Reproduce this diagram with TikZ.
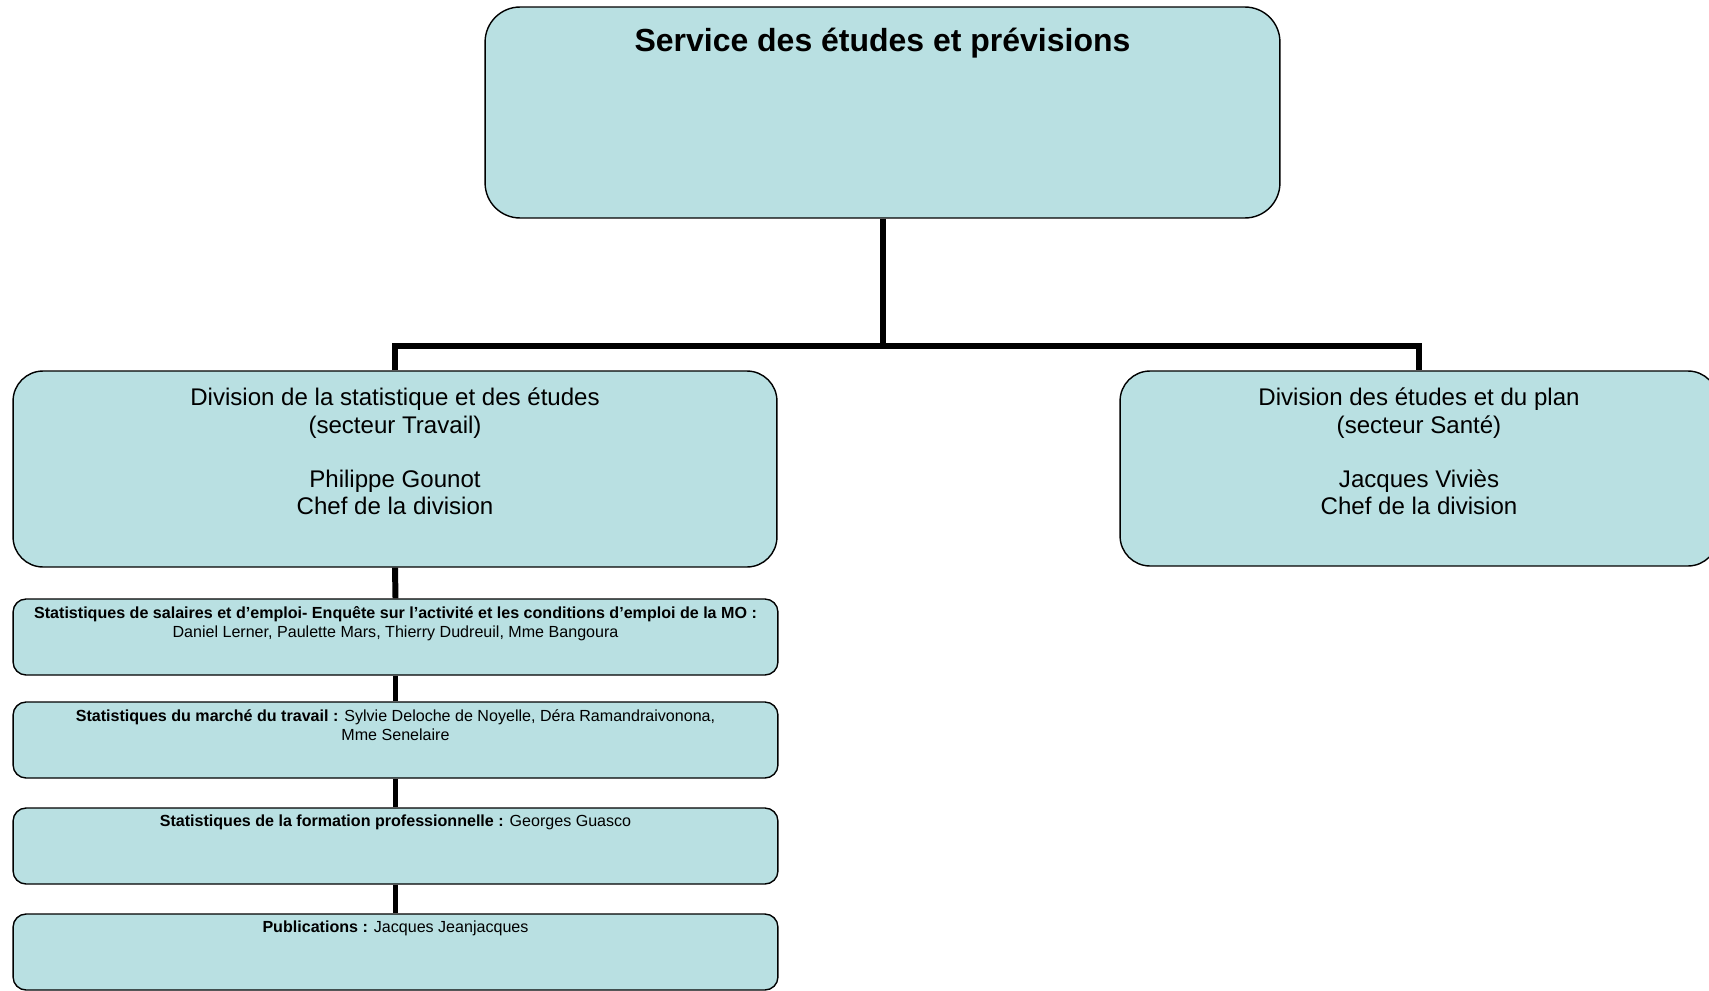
\documentclass[tikz,border=0pt]{standalone}
\usepackage{fontspec}
\setmainfont{Liberation Sans}
\usepackage{tikz}
\usetikzlibrary{positioning}
\definecolor{boxblue}{RGB}{185,224,226}
\tikzset{
  unit/.style    = {draw, line width=0.8pt, fill=boxblue, inner sep=0pt},
  head/.style    = {unit, rounded corners=0.7cm, minimum width=15.9cm, minimum height=4.22cm},
  division/.style = {unit, rounded corners=0.6cm, minimum height=3.92cm},
  team/.style    = {unit, rounded corners=0.26cm, minimum width=15.3cm, minimum height=1.52cm},
  link/.style    = {line width=3.4pt, black},
  divlbl/.style  = {align=center, inner sep=0pt, font=\fontsize{13.7}{15.4}\selectfont},
  teamlbl/.style = {align=center, inner sep=0pt, font=\fontsize{9.15}{10.9}\selectfont},
}
\newcommand{\teambox}[3]{%
  \node[team] (#1) at (395.5,#2) {};
  \node[teamlbl, below=4.3pt of #1.north] (#1t) {#3};
}

\begin{document}
\begin{tikzpicture}[x=0.02cm, y=-0.02cm]
  \useasboundingbox (0,0) rectangle (1709,990);
  \clip (0,0) rectangle (1709,990);
  % service
  \node[head] (top) at (882.5,112.5) {};
  \node[inner sep=0pt, font=\fontsize{18.2}{21}\selectfont\bfseries, below=12pt of top.north] (ttl)
    {Service des études et prévisions};
  % divisions
  \node[division, minimum width=15.28cm] (div1) at (395,469) {};
  \node[divlbl, below=10pt of div1.north] (div1t)
    {Division de la statistique et des études\\ (secteur Travail)\\[15.4pt] Philippe Gounot\\ Chef de la division};
  \node[division, minimum width=11.96cm, minimum height=3.9cm] (div2) at (1419,468.5) {};
  \node[divlbl, below=10pt of div2.north] (div2t)
    {Division des études et du plan\\ (secteur Santé)\\[15.4pt] Jacques Viviès\\ Chef de la division};
  % teams
  \teambox{s1}{637}{\textbf{Statistiques de salaires et d’emploi- Enquête sur l’activité et les conditions d’emploi de la MO :}\\ Daniel Lerner, Paulette Mars, Thierry Dudreuil, Mme Bangoura}
  \teambox{s2}{740}{\textbf{Statistiques du marché du travail :} Sylvie Deloche de Noyelle, Déra Ramandraivonona,\\ Mme Senelaire}
  \teambox{s3}{846}{\textbf{Statistiques de la formation professionnelle :} Georges Guasco}
  \teambox{s4}{952}{\textbf{Publications :} Jacques Jeanjacques}
  % links
  \coordinate (hub) at (882.5,346);
  \draw[link] (top.south) -- (hub);
  \draw[link] (div1.north) |- (hub) -| (div2.north);
  \draw[link] (div1.south) -- (s1.north);
  \foreach \a/\b in {s1/s2, s2/s3, s3/s4}
    \draw[link] (\a.south) -- (\b.north);
\end{tikzpicture}
\end{document}
